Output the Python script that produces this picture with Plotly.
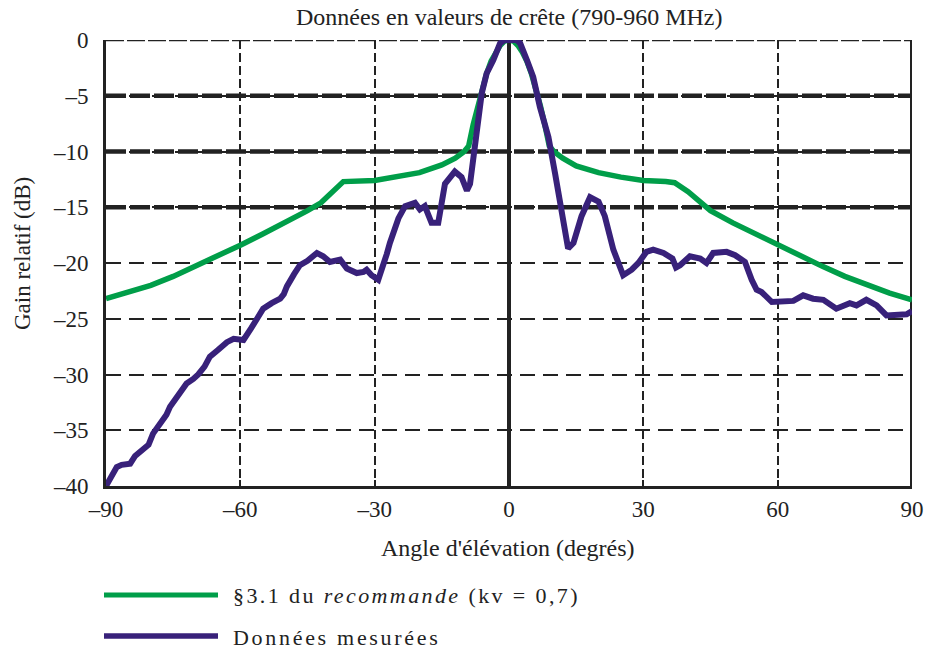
import plotly.graph_objects as go

# ---------------- data ----------------
green_x = [-90, -85, -80, -75, -70, -65, -60, -55, -50, -45, -42, -40, -38, -37,
           -30, -25, -20, -15, -12, -10, -9, -8, -7, -6, -5, -4, -3, -2, -1, 0,
           1, 2, 3, 4, 5, 6, 7, 8, 9, 10, 12, 15, 20, 25, 30, 35, 37, 40, 43,
           45, 50, 55, 60, 65, 70, 75, 80, 85, 90]
green_y = [-23.2, -22.6, -22.0, -21.2, -20.3, -19.4, -18.4, -17.4, -16.4, -15.3, -14.6, -13.8, -13.0, -12.7,
           -12.6, -12.3, -11.9, -11.2, -10.6, -10.0, -9.5, -7.6, -5.9, -4.3, -3.0, -1.9, -1.1, -0.5, -0.1, 0.0,
           -0.1, -0.5, -1.1, -1.9, -3.0, -4.3, -5.9, -7.6, -9.5, -10.0, -10.6, -11.3, -11.9, -12.3, -12.6, -12.7, -12.8, -13.6, -14.6,
           -15.3, -16.4, -17.4, -18.4, -19.4, -20.3, -21.2, -22.0, -22.7, -23.3]

blue_x = [-90.0, -89.0, -87.6, -86.5, -84.6, -83.5, -81.7, -80.5, -79.5, -77.9, -76.5, -75.7, -74.0, -72.0,
          -70.5, -69.4, -68.0, -66.8, -65.0, -63.0, -61.5, -60.1, -59.3, -57.5, -56.0, -54.9, -53.0, -51.1,
          -50.3, -49.6, -48.0, -46.7, -45.0, -42.9, -41.5, -40.0, -37.7, -36.2, -34.0, -32.5, -31.8, -30.7,
          -29.2, -28.2, -27.3, -26.6, -24.7, -23.2, -21.0, -19.9, -18.8, -17.3, -15.8, -14.3, -12.1, -10.6,
          -9.4, -8.7, -7.2, -6.1, -5.0, -3.5, -2.0, -1.0, 1.7, 2.5, 4.0, 5.4, 6.9, 8.8, 10.3, 11.8, 13.2,
          14.4, 16.2, 18.1, 20.0, 21.4, 23.3, 25.5, 27.4, 28.9, 30.7, 32.2, 34.5, 36.5, 37.3, 38.2, 40.4,
          42.7, 44.1, 45.6, 48.6, 50.5, 52.7, 54.2, 55.3, 56.4, 58.7, 63.5, 65.7, 67.9, 70.2, 73.1, 76.1,
          77.6, 79.8, 82.1, 84.3, 88.8, 90.0]
blue_y = [-40.0, -39.2, -38.3, -38.1, -38.0, -37.3, -36.6, -36.3, -35.3, -34.4, -33.6, -32.9, -32.0, -30.8,
          -30.4, -30.0, -29.3, -28.4, -27.8, -27.1, -26.8, -26.8, -26.9, -25.8, -24.8, -24.1, -23.6, -23.2,
          -22.8, -22.1, -21.0, -20.2, -19.8, -19.1, -19.4, -19.9, -19.7, -20.5, -20.9, -20.8, -20.6, -21.1,
          -21.5, -20.4, -19.2, -18.2, -16.0, -14.9, -14.6, -15.2, -14.9, -16.4, -16.4, -12.9, -11.8, -12.3,
          -13.5, -12.9, -8.1, -4.8, -3.0, -1.8, -0.3, 0.0, 0.0, -0.3, -1.8, -3.3, -6.0, -8.7, -12.0, -15.8, -18.7,
          -18.2, -15.8, -14.1, -14.5, -15.8, -18.8, -21.1, -20.6, -20.0, -19.0, -18.8, -19.1, -19.6, -20.4, -20.2, -19.4,
          -19.6, -20.0, -19.1, -19.0, -19.3, -19.9, -21.5, -22.4, -22.6, -23.5, -23.4, -22.9, -23.2, -23.3, -24.1, -23.6,
          -23.8, -23.3, -23.8, -24.7, -24.6, -24.3]

x_ticks = [-90, -60, -30, 0, 30, 60, 90]
x_tick_labels = ["–90", "–60", "–30", "0", "30", "60", "90"]
y_ticks = [0, -5, -10, -15, -20, -25, -30, -35, -40]
y_tick_labels = ["0", "–5", "–10", "–15", "–20", "–25", "–30", "–35", "–40"]
thick_grid_y = [-5, -10, -15]

title_text = "Données en valeurs de crête (790-960 MHz)"
x_title = "Angle d'élévation (degrés)"
y_title = "Gain relatif (dB)"
legend_green = "§3.1 du <i>recommande</i> (kv = 0,7)"
legend_blue = "Données mesurées"

# ---------------- style ----------------
GREEN = "#009E49"
PURPLE = "#38217A"
INK = "#222222"
FONT = "Liberation Serif, Times New Roman, serif"
W, H = 927, 653
L, R, T, B = 106, 15, 40, 167
PW, PH = W - L - R, H - T - B


def px_x(px):
    return (px - L) / PW


def px_y(py):
    return (H - B - py) / PH


fig = go.Figure()
fig.add_trace(go.Scatter(x=green_x, y=green_y, mode="lines",
                         line=dict(color=GREEN, width=5.5), showlegend=False,
                         name="§3.1 du recommande (kv = 0,7)"))
fig.add_trace(go.Scatter(x=blue_x, y=blue_y, mode="lines",
                         line=dict(color=PURPLE, width=6), showlegend=False,
                         name=legend_blue))

shapes = []
for yv in thick_grid_y:
    shapes.append(dict(type="line", xref="x", yref="y", x0=-90, x1=90, y0=yv, y1=yv,
                       line=dict(color=INK, width=4.5, dash="20px,4px"), layer="below"))
# top border (thin dashed) and right border (thick solid)
shapes.append(dict(type="line", xref="x", yref="y", x0=-90, x1=90, y0=0, y1=0,
                   line=dict(color=INK, width=2.5, dash="18px,3px"), layer="below"))
shapes.append(dict(type="line", xref="x", yref="y", x0=90, x1=90, y0=-40, y1=0,
                   line=dict(color=INK, width=4), layer="below"))
# legend keys
shapes.append(dict(type="line", xref="paper", yref="paper", x0=px_x(104), x1=px_x(218),
                   y0=px_y(595), y1=px_y(595), line=dict(color=GREEN, width=5)))
shapes.append(dict(type="line", xref="paper", yref="paper", x0=px_x(104), x1=px_x(218),
                   y0=px_y(636), y1=px_y(636), line=dict(color=PURPLE, width=5.5)))

annotations = [
    dict(text=title_text, xref="paper", yref="paper", x=px_x(509), y=px_y(17),
         xanchor="center", yanchor="middle", showarrow=False,
         font=dict(family=FONT, size=24, color=INK)),
    dict(text=x_title, xref="paper", yref="paper", x=px_x(508), y=px_y(548),
         xanchor="center", yanchor="middle", showarrow=False,
         font=dict(family=FONT, size=24, color=INK)),
    dict(text=y_title, xref="paper", yref="paper", x=px_x(22), y=px_y(254),
         xanchor="center", yanchor="middle", showarrow=False, textangle=-90,
         font=dict(family=FONT, size=23, color=INK)),
    dict(text='<span style="letter-spacing:2.4px">' + legend_green + '</span>',
         xref="paper", yref="paper", x=px_x(231), y=px_y(595),
         xanchor="left", yanchor="middle", showarrow=False,
         font=dict(family=FONT, size=22, color=INK)),
    dict(text='<span style="letter-spacing:2.7px">' + legend_blue + '</span>',
         xref="paper", yref="paper", x=px_x(231), y=px_y(637),
         xanchor="left", yanchor="middle", showarrow=False,
         font=dict(family=FONT, size=22, color=INK)),
]

fig.update_layout(
    width=W, height=H,
    margin=dict(l=L, r=R, t=T, b=B, pad=0, autoexpand=False),
    paper_bgcolor="white", plot_bgcolor="white",
    showlegend=False,
    shapes=shapes,
    annotations=annotations,
    xaxis=dict(range=[-90, 90], tickvals=x_ticks, ticktext=x_tick_labels,
               automargin=False,
               ticks="inside", ticklen=6, tickwidth=2, tickcolor=INK,
               showline=True, linewidth=3, linecolor=INK, mirror=False,
               showgrid=True, gridcolor=INK, gridwidth=1.5, griddash="9px,4px",
               zeroline=True, zerolinecolor=INK, zerolinewidth=4,
               tickfont=dict(family=FONT, size=23, color=INK),
               ticklabelstandoff=0, fixedrange=True),
    yaxis=dict(range=[-40, 0], tickvals=y_ticks, ticktext=y_tick_labels,
               automargin=False,
               ticks="inside", ticklen=6, tickwidth=2, tickcolor=INK,
               showline=True, linewidth=3, linecolor=INK, mirror=False,
               showgrid=True, gridcolor=INK, gridwidth=2, griddash="15px,8px",
               zeroline=False,
               tickfont=dict(family=FONT, size=23, color=INK),
               ticklabelstandoff=10, fixedrange=True),
)

fig.write_html("out.html")
